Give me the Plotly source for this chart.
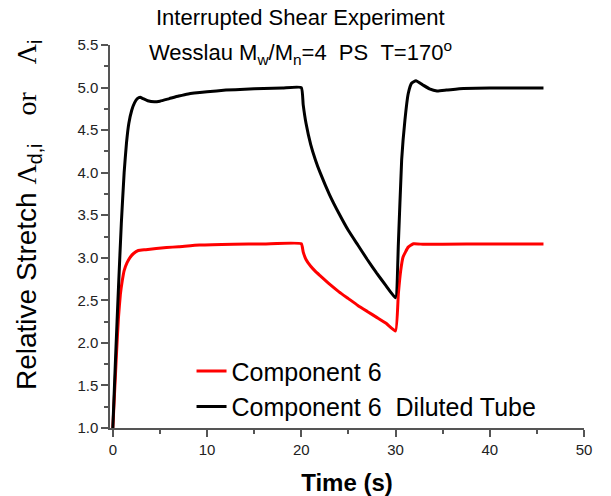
import plotly.graph_objects as go

# Component 6 (red)
t_comp6 = [0, 0.2, 0.4, 0.6, 0.8, 1.0, 1.2, 1.5, 1.8, 2.2, 2.7, 3.5, 5.7, 7, 9.2, 12.8, 16, 20,
           20.2, 20.5, 21, 21.5, 22, 23, 24, 25, 26, 27, 28, 29, 30,
           30.3, 30.55, 30.8, 31.35, 31.9, 33, 35, 40, 45.7]
v_comp6 = [1.0, 1.45, 1.9, 2.3, 2.57, 2.73, 2.85, 2.94, 3.0, 3.05, 3.085, 3.095, 3.12, 3.13, 3.15, 3.16, 3.163, 3.165,
           3.07, 2.98, 2.90, 2.84, 2.79, 2.69, 2.60, 2.52, 2.44, 2.37, 2.30, 2.23, 2.14,
           2.58, 2.85, 3.01, 3.125, 3.164, 3.158, 3.16, 3.163, 3.163]

# Component 6 Diluted Tube (black)
t_dil = [0, 0.3, 0.6, 0.9, 1.2, 1.45, 1.7, 2.0, 2.3, 2.6, 2.9, 3.2, 3.7, 4.4, 5.0, 6, 7, 8, 10, 12, 14, 16, 18, 20,
         20.2, 20.5, 21, 21.5, 22, 23, 24, 25, 26, 27, 28, 29, 30,
         30.3, 30.65, 31.0, 31.35, 31.7, 32.17, 32.9, 33.6, 34.4, 35.4, 37.2, 40, 45.7]
v_dil = [1.0, 1.85, 2.65, 3.4, 4.0, 4.35, 4.58, 4.73, 4.82, 4.87, 4.885, 4.87, 4.845, 4.832, 4.84, 4.87, 4.9, 4.925, 4.95, 4.97, 4.98, 4.99, 4.995, 5.0,
         4.80, 4.58, 4.33, 4.15, 4.0, 3.74, 3.52, 3.32, 3.15, 2.98, 2.82, 2.67, 2.53,
         3.16, 4.15, 4.62, 4.93, 5.05, 5.08, 5.03, 4.985, 4.96, 4.97, 4.99, 4.995, 4.995]

x_ticks = [0, 10, 20, 30, 40, 50]
y_ticks = [1.0, 1.5, 2.0, 2.5, 3.0, 3.5, 4.0, 4.5, 5.0, 5.5]

fig = go.Figure()
fig.add_trace(go.Scatter(x=t_comp6, y=v_comp6, mode="lines", name="Component 6",
                         line=dict(color="#ff0000", width=3, shape="spline", smoothing=0.4)))
fig.add_trace(go.Scatter(x=t_dil, y=v_dil, mode="lines", name="Component 6  Diluted Tube",
                         line=dict(color="#000000", width=3, shape="spline", smoothing=0.4)))

axcol = "#555555"
fig.update_layout(
    width=611, height=496,
    margin=dict(l=110, r=27, t=45, b=68),
    plot_bgcolor="white", paper_bgcolor="white",
    font=dict(family="Liberation Sans, Arial, sans-serif", color="#111111"),
    xaxis=dict(range=[-0.3, 50], tickvals=x_ticks, ticks="outside", ticklen=7, tickwidth=1.5,
               tickcolor=axcol, showline=True, linecolor=axcol, linewidth=1.5, automargin=False,
               showgrid=False, zeroline=False, tickfont=dict(size=15, color="#222222"),
               minor=dict(ticks="outside", ticklen=4, tickwidth=1.5, tickcolor=axcol, dtick=5, tick0=0, showgrid=False),
               title=dict(text="<b>Time (s)</b>", font=dict(size=24, color="#000000"), standoff=18)),
    yaxis=dict(range=[1.0, 5.5], tickvals=y_ticks, tickformat=".1f", ticks="outside", ticklen=7, tickwidth=1.5,
               tickcolor=axcol, showline=True, linecolor=axcol, linewidth=1.5, automargin=False,
               showgrid=False, zeroline=False, tickfont=dict(size=15, color="#222222"),
               minor=dict(ticks="outside", ticklen=4, tickwidth=1.5, tickcolor=axcol, dtick=0.25, tick0=1.0, showgrid=False)),
    legend=dict(x=0.172, y=0.208, xanchor="left", yanchor="top", bgcolor="rgba(0,0,0,0)",
                font=dict(size=25, color="#000000"), tracegroupgap=0),
    showlegend=True,
)

fig.add_annotation(text="Interrupted Shear Experiment", xref="paper", yref="paper",
                   x=(300 - 110) / 474, y=(428 - 32) / 383, xanchor="center", yanchor="bottom",
                   showarrow=False, font=dict(size=22, color="#000000"))
fig.add_annotation(text="Wesslau M<sub>w</sub>/M<sub>n</sub>=4\u00a0\u00a0PS\u00a0\u00a0T=170<sup>o</sup>", xref="paper", yref="paper",
                   x=(300 - 110) / 474, y=(428 - 70) / 383, xanchor="center", yanchor="bottom",
                   showarrow=False, font=dict(size=22, color="#000000"))
fig.add_annotation(text="Relative Stretch <span style=\"font-family:Liberation Serif\">\u039b</span><sub>d,i</sub>\u2003<span style=\"font-family:Liberation Serif\">or</span>\u2003<span style=\"font-family:Liberation Serif\">\u039b</span><sub>i</sub>",
                   xref="paper", yref="paper", x=(28 - 110) / 474, y=(428 - 215) / 383,
                   xanchor="center", yanchor="middle", textangle=-90,
                   showarrow=False, font=dict(size=28, color="#000000"))

fig.write_html("out.html")
